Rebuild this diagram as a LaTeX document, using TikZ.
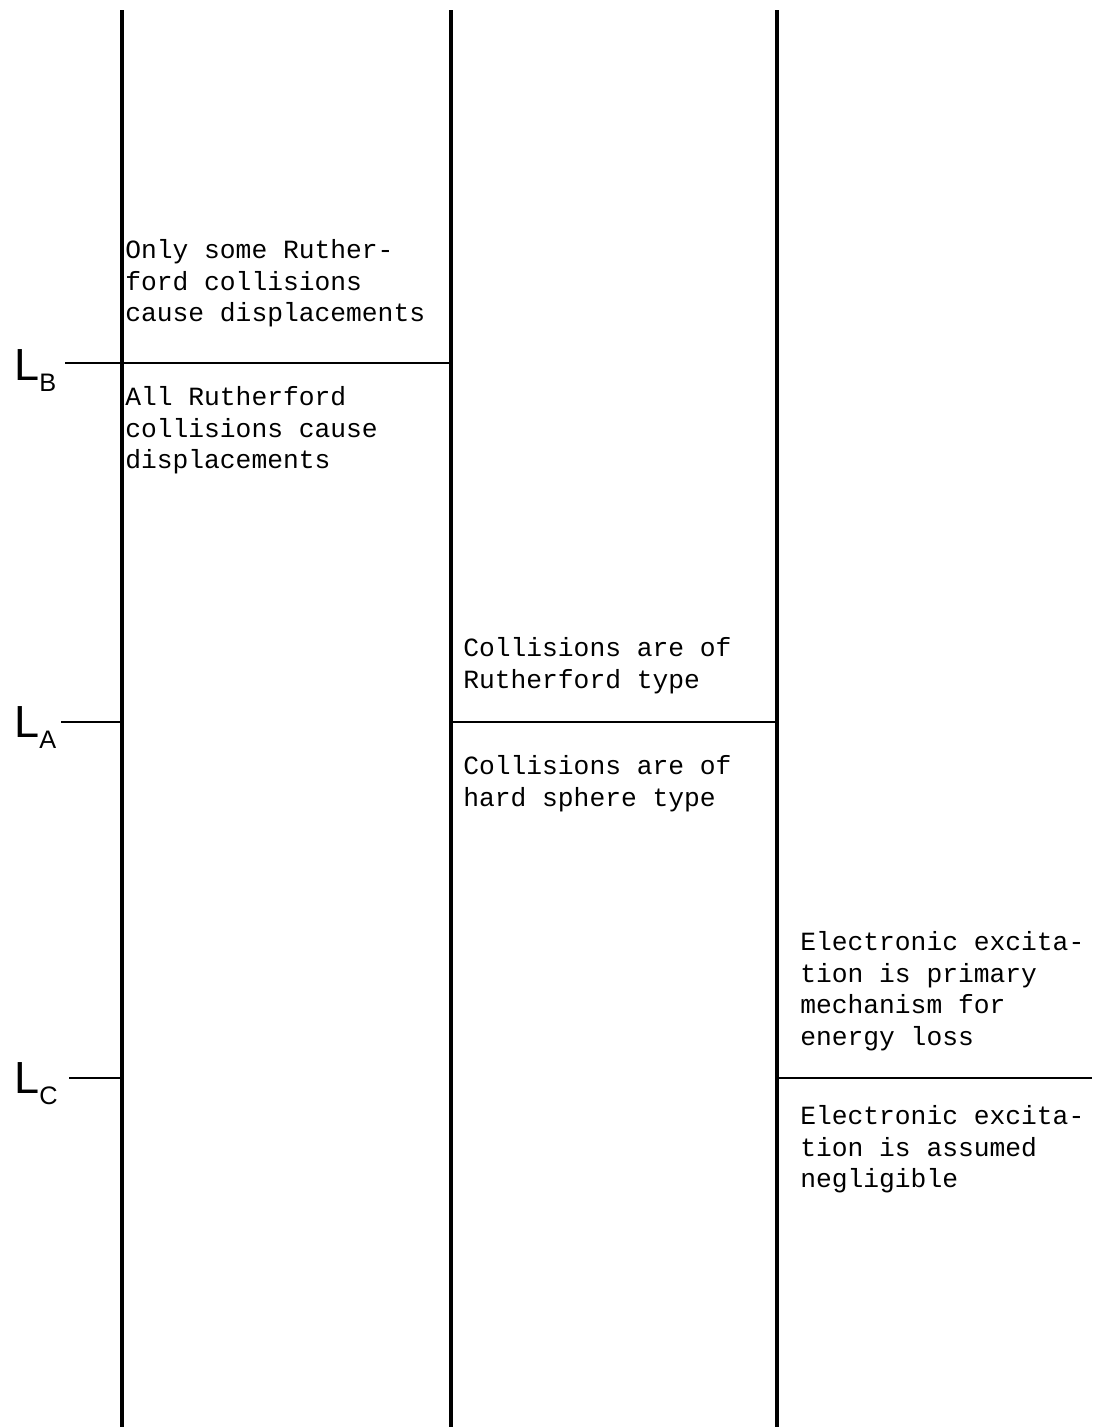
\documentclass[tikz,border=0pt]{standalone}
\usepackage{fontspec}
\setmonofont{Liberation Mono}
\newfontfamily\lblfont{Liberation Sans}
\usetikzlibrary{positioning}
\tikzset{
    colline/.style={line width=2.2pt},
    divline/.style={line width=1.5pt},
    note/.style={font=\ttfamily\fontsize{18.7}{22.6}\selectfont, align=left, inner sep=0pt, anchor=north west},
    lbl/.style={font=\lblfont\fontsize{32}{32}\selectfont, inner sep=0pt, anchor=base west}
}
\newcommand{\levsub}[1]{\raisebox{-8pt}{\fontsize{18}{18}\selectfont #1}}

\begin{document}
\begin{tikzpicture}[x=0.025cm, y=-0.025cm]
    \useasboundingbox (0,0) rectangle (1092,1427);

    % Column lines
    \coordinate (c1top) at (122,10);  \coordinate (c1bot) at (122,1427);
    \coordinate (c2top) at (451,10);  \coordinate (c2bot) at (451,1427);
    \coordinate (c3top) at (777,10);  \coordinate (c3bot) at (777,1427);
    \draw[colline] (c1top) -- (c1bot);
    \draw[colline] (c2top) -- (c2bot);
    \draw[colline] (c3top) -- (c3bot);

    % Level L_B
    \node[lbl] (labB) at (14,380) {L\levsub{B}};
    \coordinate (tickB) at (65,363);
    \coordinate (divB) at (451,363);
    \draw[divline] (tickB) -- (divB);

    % Level L_A
    \node[lbl] (labA) at (14,737) {L\levsub{A}};
    \coordinate (tickA) at (61,722);
    \coordinate (footA) at (122,722);
    \coordinate (divAl) at (451,722);
    \coordinate (divAr) at (777,722);
    \draw[divline] (tickA) -- (footA);
    \draw[divline] (divAl) -- (divAr);

    % Level L_C
    \node[lbl] (labC) at (14,1093) {L\levsub{C}};
    \coordinate (tickC) at (69,1078);
    \coordinate (footC) at (122,1078);
    \coordinate (divCl) at (777,1078);
    \coordinate (divCr) at (1092,1078);
    \draw[divline] (tickC) -- (footC);
    \draw[divline] (divCl) -- (divCr);

    % Column 1 notes
    \node[note] (someR) at (125,239) {Only some Ruther-\\ford collisions\\cause displacements};
    \node[note] (allR) at (125,386) {All Rutherford\\collisions cause\\displacements};

    % Column 2 notes
    \node[note] (ruthT) at (463,637) {Collisions are of\\Rutherford type};
    \node[note] (hardT) at (463,755) {Collisions are of\\hard sphere type};

    % Column 3 notes
    \node[note] (primE) at (800,931) {Electronic excita-\\tion is primary\\mechanism for\\energy loss};
    \node[note] (negE) at (800,1105) {Electronic excita-\\tion is assumed\\negligible};
\end{tikzpicture}
\end{document}
